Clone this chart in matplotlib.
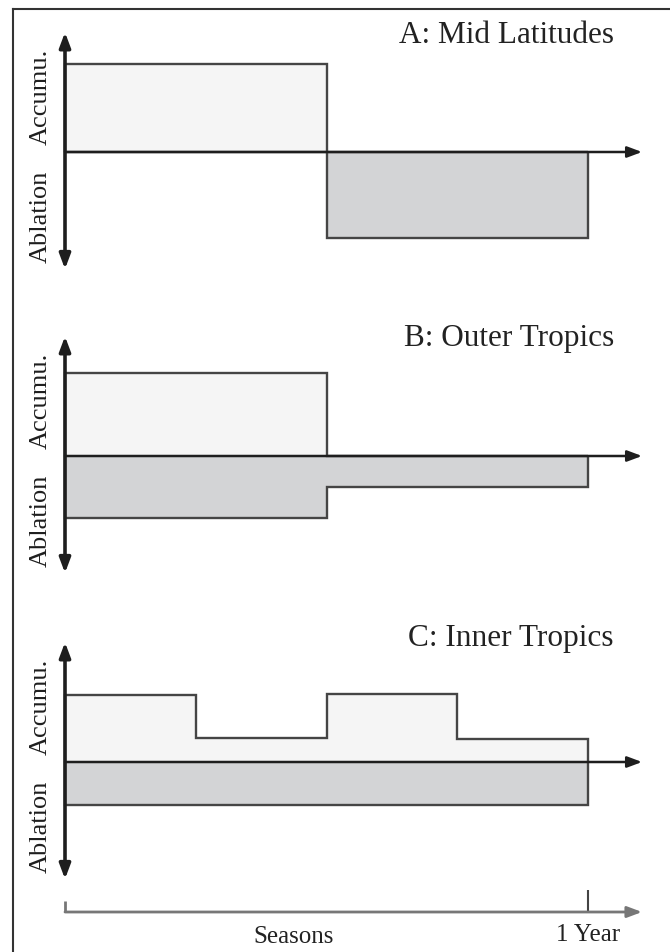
import matplotlib
matplotlib.use("Agg")
import matplotlib.pyplot as plt
from matplotlib.lines import Line2D

# ---------------- data ----------------
titles = ["A: Mid Latitudes", "B: Outer Tropics", "C: Inner Tropics"]
y_labels = ["Accumu.", "Ablation"]
x_label = "Seasons"
year_label = "1 Year"

# season edges (months)
edges_half = [0, 6, 12]
edges_quarter = [0, 3, 6, 9, 12]

# relative accumulation (+) / ablation (-) per season
a_accum = [1.00, 0.00]
a_ablat = [0.00, -0.98]
b_accum = [0.94, 0.00]
b_ablat = [-0.70, -0.35]
c_accum = [0.76, 0.27, 0.77, 0.26]
c_ablat = [-0.49, -0.49, -0.49, -0.49]

panels = [
    (titles[0], edges_half, a_accum, a_ablat),
    (titles[1], edges_half, b_accum, b_ablat),
    (titles[2], edges_quarter, c_accum, c_ablat),
]

# ---------------- layout ----------------
W, H = 670, 953
fig = plt.figure(figsize=(W / 100, H / 100), dpi=100)
fig.patch.set_facecolor("white")

X0 = 65.0                   # pixel of x=0
SX = (588.0 - 65.0) / 12.0  # pixels per month
SY = 88.0                   # pixels per unit
# (axes top px, axes bottom px, zero line px)
geo = [(0, 305, 153), (305, 610, 457), (610, 953, 763)]

serif = ["Liberation Serif", "DejaVu Serif"]
ACC_C = "#f5f5f5"
ABL_C = "#d3d4d6"
EDGE = "#454545"
AX_C = "#1e1e1e"

arrow_end = (642 - X0) / SX

for i, ((title, edges, acc, abl), (top, bot, zero)) in enumerate(zip(panels, geo)):
    ax = fig.add_axes([0, 1 - bot / H, 1, (bot - top) / H])
    ax.set_xlim(-X0 / SX, (W - X0) / SX)
    ax.set_ylim(-(bot - zero) / SY, (zero - top) / SY)
    ax.axis("off")
    ax.patch.set_alpha(0)

    ax.stairs(acc, edges, baseline=0, fill=True, color=ACC_C, zorder=1)
    ax.stairs(abl, edges, baseline=0, fill=True, color=ABL_C, zorder=1)
    ax.stairs(acc, edges, baseline=0, fill=False, edgecolor=EDGE, lw=1.7, zorder=2)
    ax.stairs(abl, edges, baseline=0, fill=False, edgecolor=EDGE, lw=1.7, zorder=2)

    # horizontal time arrow (zero line)
    ax.annotate("", xy=(arrow_end, 0), xytext=(0, 0),
                arrowprops=dict(arrowstyle="-|>,head_length=0.8,head_width=0.3",
                                lw=1.8, color=AX_C, shrinkA=0, shrinkB=0,
                                mutation_scale=11),
                zorder=3)
    # vertical double arrow
    ax.annotate("", xy=(0, 1.36), xytext=(0, -1.33),
                arrowprops=dict(arrowstyle="<|-|>,head_length=0.8,head_width=0.3",
                                lw=2.6, color=AX_C, shrinkA=0, shrinkB=0,
                                mutation_scale=11),
                zorder=4)

    ax.text(-24 / SX, 0.09, y_labels[0], rotation=90, ha="center", va="bottom",
            fontsize=19, family=serif, color="#1e1e1e")
    ax.text(-24 / SX, -0.2, y_labels[1], rotation=90, ha="center", va="top",
            fontsize=19, family=serif, color="#1e1e1e")

    ty = [1.33, 1.35, 1.42][i]
    ax.text((614 - X0) / SX, ty, title, ha="right", va="center",
            fontsize=22.5, family=serif, color="#222222")

    if i == 2:
        yb = -(913 - zero) / SY
        ax.annotate("", xy=(arrow_end, yb), xytext=(0, yb),
                    arrowprops=dict(arrowstyle="-|>,head_length=0.8,head_width=0.3",
                                    lw=2.0, color="#777777", shrinkA=0, shrinkB=0,
                                    mutation_scale=11))
        ax.plot([0, 0], [yb, -(902 - zero) / SY], color="#777777", lw=2.0,
                solid_capstyle="butt")
        ax.plot([12, 12], [yb, -(891 - zero) / SY], color="#444444", lw=1.5,
                solid_capstyle="butt")
        ax.text((294 - X0) / SX, -(937 - zero) / SY, x_label, ha="center",
                va="center", fontsize=18, family=serif, color="#222222")
        ax.text(12.0, -(935 - zero) / SY, year_label, ha="center",
                va="center", fontsize=18, family=serif, color="#222222")

# outer frame (top and left edges)
fig.add_artist(Line2D([13 / W, 13 / W], [1 - 10 / H, 0], transform=fig.transFigure,
                      color="#333333", lw=1.5))
fig.add_artist(Line2D([13 / W, 1], [1 - 10 / H, 1 - 10 / H], transform=fig.transFigure,
                      color="#333333", lw=1.5))

fig.savefig("out.png", dpi=100, facecolor="white")
